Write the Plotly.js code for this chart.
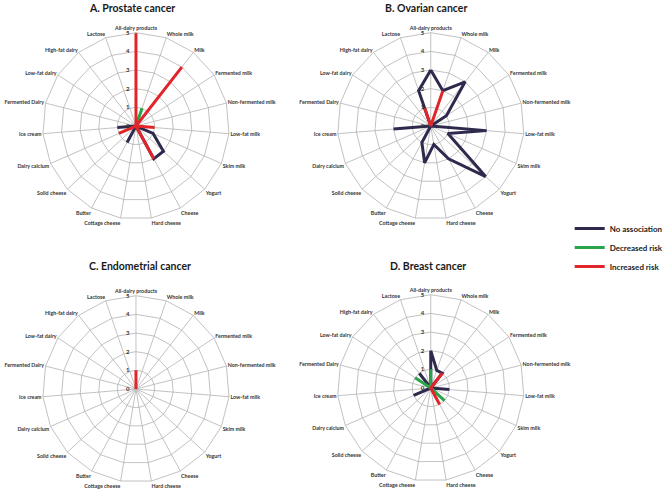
<!DOCTYPE html>
<html>
<head>
<meta charset="utf-8">
<script src="https://cdn.plot.ly/plotly-3.0.1.min.js"></script>
<style>html,body{margin:0;padding:0;background:#fff;}#chart{width:669px;height:490px;}</style>
</head>
<body>
<div id="chart"></div>
<script>
const categories = ["All-dairy products","Whole milk","Milk","Fermented milk","Non-fermented milk","Low-fat milk","Skim milk","Yogurt","Cheese","Hard cheese","Cottage cheese","Butter","Solid cheese","Dairy calcium","Ice cream","Fermented Dairy","Low-fat dairy","High-fat dairy","Lactose"];
const seriesNames = ["No association","Decreased risk","Increased risk"];
const panelTitles = ["A. Prostate cancer","B. Ovarian cancer","C. Endometrial cancer","D. Breast cancer"];
const radialTicks = [0,1,2,3,4,5];

// A. Prostate
const prostateNo  = [0,0,0,0,0,0,1,2,2,0,0,1,0,0,1,0,0,0,0];
const prostateDec = [0,1,0,0,0,0,0,0,0,0,0,0,0,0,0,0,0,0,0];
const prostateInc = [5,0,4,0,0,1,0,0,2,0,0,0,0,1,0,0,0,0,0];
// B. Ovarian
const ovarianNo  = [3,2,3,1,0,3,1,4,2,1,2,1,0,0,2,0,0,0,2];
const ovarianDec = [0,0,0,0,0,0,0,0,0,0,0,0,0,0,0,0,0,0,0];
const ovarianInc = [0,2,0,0,0,0,0,0,0,0,0,0,0,0,0,0,0,0,1];
// C. Endometrial
const endometrialNo  = [0,0,0,0,0,0,0,0,0,0,0,0,0,0,0,0,0,0,0];
const endometrialDec = [0,0,0,0,0,0,0,0,0,0,0,0,0,0,0,0,0,0,0];
const endometrialInc = [1,0,0,0,0,0,0,0,0,0,0,0,0,0,0,0,0,0,0];
// D. Breast
const breastNo  = [2,1,1,0,0,1,0,0,0,0,0,0,0,1,0,0,0,1,0];
const breastDec = [1,0,0,0,0,0,0,1,0,0,0,0,0,0,0,0,1,0,0];
const breastInc = [0,0,1,0,0,0,0,0,1,0,0,0,0,0,0,0,0,0,0];

const colors = ["#2e2a4d","#2ba34a","#e0262b"];
const panels = [
  [prostateNo, prostateDec, prostateInc],
  [ovarianNo, ovarianDec, ovarianInc],
  [endometrialNo, endometrialDec, endometrialInc],
  [breastNo, breastDec, breastInc]
];
const subplotIds = ["polar","polar2","polar3","polar4"];

const traces = [];
panels.forEach((series, p) => {
  series.forEach((vals, s) => {
    traces.push({
      type: "scatterpolar",
      mode: "lines",
      r: vals.concat([vals[0]]),
      theta: categories.concat([categories[0]]),
      subplot: subplotIds[p],
      name: seriesNames[s],
      showlegend: p === 0,
      line: {color: colors[s], width: 3},
      hoverinfo: "skip"
    });
  });
});

const W = 669, H = 490, R = 94;
const centers = [[137,126],[434,126],[137,389],[434,388]];
function dom(cx, cy) {
  return {x: [(cx - R) / W, (cx + R) / W], y: [(H - cy - R) / H, (H - cy + R) / H]};
}
const gridCol = "#b3b3b3";
const labelFont = {family: "Lato, sans-serif", size: 5.3, weight: "bold", color: "#333333"};
function polarLayout(i) {
  return {
    domain: dom(centers[i][0], centers[i][1]),
    gridshape: "linear",
    bgcolor: "#ffffff",
    angularaxis: {
      type: "category",
      categoryorder: "array",
      categoryarray: categories,
      rotation: 90,
      direction: "clockwise",
      tickfont: labelFont,
      gridcolor: gridCol, gridwidth: 0.8,
      linecolor: gridCol, linewidth: 0.8, showline: true,
      ticks: ""
    },
    radialaxis: {
      range: [0, 5],
      tickvals: radialTicks,
      angle: 90,
      tickangle: 90,
      side: "counterclockwise",
      showline: false,
      gridcolor: gridCol, gridwidth: 0.8,
      ticks: "outside", ticklen: 4, tickcolor: "rgba(0,0,0,0)",
      tickfont: {family: "Lato, sans-serif", size: 6, weight: "bold", color: "#333333"}
    }
  };
}

const titlePos = [[133,8],[429,8],[141,266],[431,266]];
const annotations = panelTitles.map((t, i) => ({
  text: "<b>" + t + "</b>",
  x: titlePos[i][0] / W, y: 1 - titlePos[i][1] / H,
  xref: "paper", yref: "paper", xanchor: "center", yanchor: "middle",
  showarrow: false,
  font: {family: "Lato, sans-serif", size: 10.5, color: "#1a1a1a"}
}));

const layout = {
  width: W, height: H,
  margin: {l: 0, r: 0, t: 0, b: 0},
  paper_bgcolor: "#ffffff",
  showlegend: true,
  legend: {
    x: 574 / W, y: 1 - 214 / H, xanchor: "left", yanchor: "top",
    font: {family: "Lato, sans-serif", size: 8, weight: "bold", color: "#1a1a1a"},
    bgcolor: "rgba(0,0,0,0)", itemwidth: 30
  },
  annotations: annotations,
  polar: polarLayout(0),
  polar2: polarLayout(1),
  polar3: polarLayout(2),
  polar4: polarLayout(3)
};

Plotly.newPlot("chart", traces, layout, {displayModeBar: false, staticPlot: true});
</script>
</body>
</html>
